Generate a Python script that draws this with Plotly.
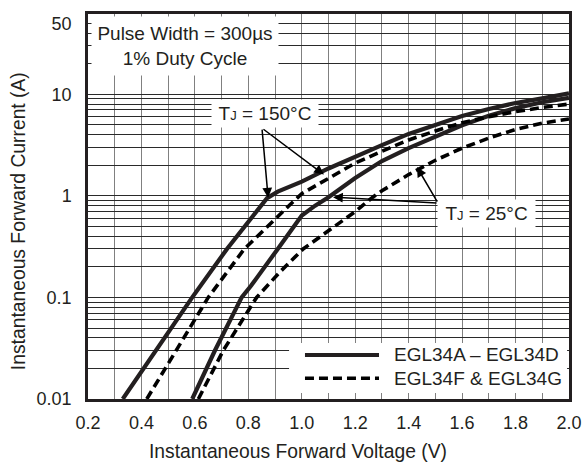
import numpy as np
import plotly.graph_objects as go

# ---- data ----
v_150_solid = [0.33, 0.59, 0.72, 0.87, 0.91, 1.0, 1.1, 1.2, 1.3, 1.4, 1.5, 1.6, 1.7, 1.8, 1.9, 2.0]
i_150_solid = [0.01, 0.1, 0.3, 0.95, 1.1, 1.38, 1.86, 2.45, 3.16, 4.07, 5.0, 6.1, 7.16, 8.2, 9.1, 10.2]

v_150_dash = [0.42, 0.65, 0.785, 0.87, 0.95, 1.0, 1.1, 1.2, 1.3, 1.4, 1.5, 1.6, 1.7, 1.8, 1.9, 2.0]
i_150_dash = [0.01, 0.1, 0.3, 0.5, 0.79, 1.05, 1.5, 2.1, 2.75, 3.55, 4.35, 5.25, 6.0, 6.75, 7.4, 8.0]

v_25_solid = [0.59, 0.675, 0.775, 0.81, 0.906, 1.0, 1.05, 1.1, 1.2, 1.3, 1.4, 1.5, 1.6, 1.7, 1.8, 1.9, 2.0]
i_25_solid = [0.01, 0.03, 0.1, 0.13, 0.29, 0.64, 0.80, 0.97, 1.50, 2.2, 2.95, 3.85, 4.95, 6.15, 7.3, 8.35, 9.2]

v_25_dash = [0.613, 0.706, 0.831, 0.92, 1.005, 1.106, 1.2, 1.268, 1.3, 1.4, 1.5, 1.6, 1.7, 1.8, 1.9, 2.0]
i_25_dash = [0.01, 0.03, 0.1, 0.18, 0.3, 0.46, 0.7, 0.98, 1.12, 1.62, 2.24, 2.95, 3.7, 4.5, 5.2, 5.7]

x_tickvals = [0.2, 0.3, 0.4, 0.5, 0.6, 0.7, 0.8, 0.9, 1.0, 1.1, 1.2, 1.3, 1.4, 1.5, 1.6, 1.7, 1.8, 1.9, 2.0]
x_ticktext = ["0.2", "", "0.4", "", "0.6", "", "0.8", "", "1.0", "", "1.2", "", "1.4", "", "1.6", "", "1.8", "", "2.0"]

y_tickvals = [m * d for d in (0.01, 0.1, 1.0) for m in range(1, 10)] + [10, 20, 30, 40, 50]
y_ticktext = []
for d in (0.01, 0.1, 1.0):
    for m in range(1, 10):
        y_ticktext.append({0.01: "0.01", 0.1: "0.1", 1.0: "1"}[d] if m == 1 else "")
y_ticktext += ["10", "", "", "", "50"]

x_title = "Instantaneous Forward Voltage (V)"
y_title = "Instantaneous Forward Current (A)"
series_names = ["EGL34A \u2013 EGL34D", "EGL34F & EGL34G"]
pulse_text = "Pulse Width = 300\u00b5s<br>1% Duty Cycle"
label_150 = "T<span style='font-size:13px'>J</span> = 150\u00b0C"
label_25 = "T<span style='font-size:13px'>J</span> = 25\u00b0C"

FONT = "Arial, Liberation Sans, sans-serif"
INK = "#231f20"

fig = go.Figure()
fig.add_trace(go.Scatter(x=v_150_solid, y=i_150_solid, mode="lines",
                         line=dict(color=INK, width=4.2), showlegend=False))
fig.add_trace(go.Scatter(x=v_25_solid, y=i_25_solid, mode="lines",
                         line=dict(color=INK, width=4.2), showlegend=False))
fig.add_trace(go.Scatter(x=v_150_dash, y=i_150_dash, mode="lines",
                         line=dict(color="black", width=3.6, dash="9px,5px"), showlegend=False))
fig.add_trace(go.Scatter(x=v_25_dash, y=i_25_dash, mode="lines",
                         line=dict(color="black", width=3.6, dash="9px,5px"), showlegend=False))

fig.update_layout(
    width=585, height=468,
    margin=dict(l=88, r=16, t=14, b=69),
    paper_bgcolor="white", plot_bgcolor="white",
    font=dict(family=FONT, size=18, color="#231f20"),
)
fig.update_xaxes(
    range=[0.2, 2.0], tickvals=x_tickvals, ticktext=x_ticktext,
    showgrid=True, gridcolor="#808080", gridwidth=1.2,
    showline=True, linecolor=INK, linewidth=2.5, mirror=True,
    ticks="", zeroline=False, tickfont=dict(size=18), ticklabelstandoff=6, automargin=False,
)
fig.update_yaxes(
    type="log", range=[-2, 1.79], tickvals=y_tickvals, ticktext=y_ticktext,
    showgrid=True, gridcolor="#2a2a2a", gridwidth=1,
    showline=True, linecolor=INK, linewidth=2.5, mirror=True,
    ticks="", zeroline=False, tickfont=dict(size=18), ticklabelstandoff=10, automargin=False,
)

# axis titles (placed as in the reference, offset from the plot centre)
fig.add_annotation(xref="paper", yref="paper", x=0.4366, y=-0.137, text=x_title,
                   xanchor="center", yanchor="middle", showarrow=False, font=dict(size=19.3))
fig.add_annotation(xref="paper", yref="paper", x=-0.1455, y=0.462, text=y_title, textangle=-90,
                   xanchor="center", yanchor="middle", showarrow=False, font=dict(size=19.3))

# text boxes
fig.add_annotation(xref="paper", yref="paper", x=0.2017, y=0.917, text=pulse_text,
                   xanchor="center", yanchor="middle",
                   showarrow=False, bgcolor="white", width=180, height=52, borderpad=3,
                   font=dict(size=19))
fig.add_annotation(xref="paper", yref="paper", x=0.368, y=0.7416, text=label_150,
                   xanchor="center", yanchor="middle",
                   showarrow=False, bgcolor="white", width=100, height=21, borderpad=3,
                   font=dict(size=19))
fig.add_annotation(xref="paper", yref="paper", x=0.8285, y=0.483, text=label_25,
                   xanchor="center", yanchor="middle",
                   showarrow=False, bgcolor="white", width=91, height=21, borderpad=3,
                   font=dict(size=19))

# arrows (tip on curve, tail at label)
arrows = [
    (0.874, 0.96, 0.851, 4.64),
    (1.083, 1.62, 0.851, 4.64),
    (1.117, 0.97, 1.510, 0.847),
    (1.431, 1.92, 1.510, 0.847),
]
for tx, ty, sx, sy in arrows:
    fig.add_annotation(x=tx, y=np.log10(ty), xref="x", yref="y",
                       ax=sx, ay=np.log10(sy), axref="x", ayref="y",
                       text="", showarrow=True, arrowhead=2, arrowsize=1.3,
                       arrowwidth=1.5, arrowcolor="black")

# custom legend
fig.add_shape(type="rect", xref="paper", yref="paper", x0=0.418, x1=0.996, y0=0.0156, y1=0.1455,
              fillcolor="white", line=dict(width=0), layer="above")
fig.add_shape(type="line", xref="paper", yref="paper", x0=0.4511, x1=0.605, y0=0.1143, y1=0.1143,
              line=dict(color=INK, width=4.2), layer="above")
fig.add_shape(type="line", xref="paper", yref="paper", x0=0.4511, x1=0.605, y0=0.0538, y1=0.0538,
              line=dict(color="black", width=3.6, dash="9px,5px"), layer="above")
fig.add_annotation(xref="paper", yref="paper", x=0.6314, y=0.1143, xanchor="left", yanchor="middle",
                   text=series_names[0], showarrow=False, font=dict(size=19))
fig.add_annotation(xref="paper", yref="paper", x=0.6314, y=0.0538, xanchor="left", yanchor="middle",
                   text=series_names[1], showarrow=False, font=dict(size=19))

fig.write_html("out.html", config={"displayModeBar": False},
               post_script="document.body.style.margin='0';document.body.style.padding='0';")
